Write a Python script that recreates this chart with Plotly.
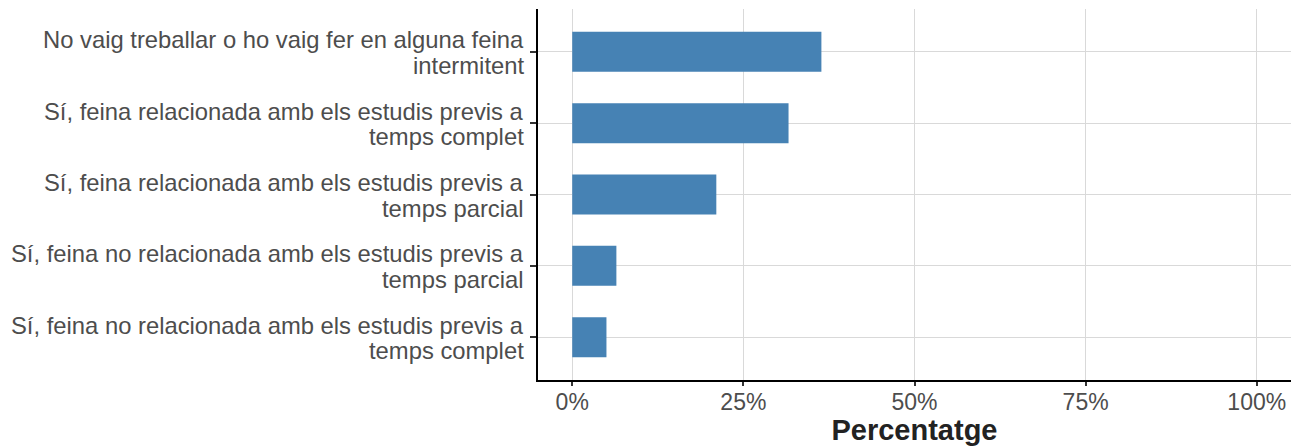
import plotly.graph_objects as go

categories = [
    "No vaig treballar o ho vaig fer en alguna feina intermitent",
    "Sí, feina relacionada amb els estudis previs a temps complet",
    "Sí, feina relacionada amb els estudis previs a temps parcial",
    "Sí, feina no relacionada amb els estudis previs a temps parcial",
    "Sí, feina no relacionada amb els estudis previs a temps complet",
]
label_line1 = [
    "No vaig treballar o ho vaig fer en alguna feina",
    "Sí, feina relacionada amb els estudis previs a",
    "Sí, feina relacionada amb els estudis previs a",
    "Sí, feina no relacionada amb els estudis previs a",
    "Sí, feina no relacionada amb els estudis previs a",
]
label_line2 = [
    "intermitent",
    "temps complet",
    "temps parcial",
    "temps parcial",
    "temps complet",
]
values = [36.4, 31.6, 21.05, 6.45, 5.0]
tick_vals = [0, 25, 50, 75, 100]
tick_text = ["0%", "25%", "50%", "75%", "100%"]

FONT = "Liberation Sans"
TXT = "#4D4D4D"

fig = go.Figure(go.Bar(
    x=values, y=categories, orientation="h",
    marker=dict(color="#4682B4", line=dict(width=0)),
    width=0.56,
))

annotations = []
for cat, l1, l2 in zip(categories, label_line1, label_line2):
    for txt, shift in ((l1, 12), (l2, -13.5)):
        annotations.append(dict(
            x=0, xref="paper", y=cat, yref="y", text=txt, showarrow=False,
            xanchor="right", yanchor="middle", xshift=-12, yshift=shift,
            font=dict(family=FONT, size=23.8, color=TXT),
        ))

fig.update_layout(
    width=1291, height=446,
    margin=dict(l=538, r=0, t=9, b=66, autoexpand=False),
    plot_bgcolor="white", paper_bgcolor="white",
    font=dict(family=FONT, size=23, color=TXT),
    showlegend=False,
    annotations=annotations,
    xaxis=dict(
        range=[-5, 105], tickvals=tick_vals, ticktext=tick_text,
        showgrid=True, gridcolor="#D9D9D9", gridwidth=1,
        zeroline=False, showline=True, linecolor="black", linewidth=2,
        ticks="outside", ticklen=4, tickcolor="#333333", tickwidth=2,
        tickfont=dict(family=FONT, size=23, color=TXT),
        ticklabelstandoff=-4,
        title=dict(text="<b>Percentatge</b>", font=dict(family=FONT, size=29, color="#222222"), standoff=2),
        automargin=False,
    ),
    yaxis=dict(
        categoryorder="array", categoryarray=categories,
        range=[4.6, -0.6], showticklabels=False,
        showgrid=True, gridcolor="#D9D9D9", gridwidth=1,
        zeroline=False, showline=True, linecolor="black", linewidth=2,
        ticks="outside", ticklen=6, tickcolor="#333333", tickwidth=2,
        automargin=False,
    ),
)

fig.write_html(
    "out.html",
    config={"displayModeBar": False},
    post_script="document.body.style.margin='0';document.body.style.padding='0';document.documentElement.style.overflow='hidden';",
)
